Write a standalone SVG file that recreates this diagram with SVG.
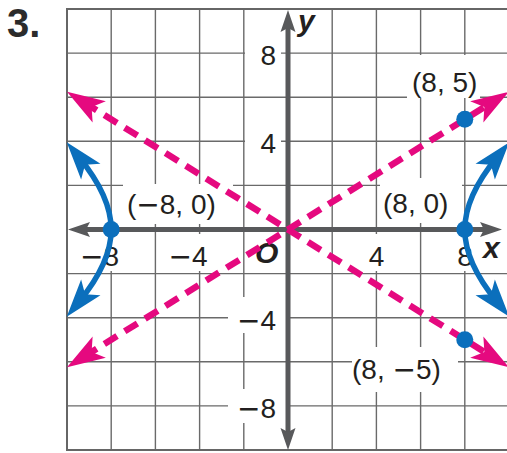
<svg xmlns="http://www.w3.org/2000/svg" width="507" height="453" viewBox="0 0 507 453">
<defs>
<style>
.grid{stroke:#6a6a6a;stroke-width:1.4;fill:none}
.border{stroke:#666666;stroke-width:2;fill:none}
.bg{fill:#ffffff}
.lbl{font-family:'Liberation Sans',Arial,sans-serif;font-size:28px;fill:#231f20}
.mn{font-family:'DejaVu Sans',sans-serif}
.axl{font-family:'Liberation Sans',Arial,sans-serif;font-size:30px;font-weight:bold;font-style:italic;fill:#231f20}
.title{font-family:'Liberation Sans',Arial,sans-serif;font-size:40px;font-weight:bold;fill:#2b2b2b}
.axis{stroke:#58595b;stroke-width:5;fill:none;marker-start:url(#ah-axis);marker-end:url(#ah-axis)}
.asym{stroke:#e5097f;stroke-width:6.5;fill:none;stroke-dasharray:15 9;marker-start:url(#ah-pink);marker-end:url(#ah-pink)}
.hyp{stroke:#0b6fbc;stroke-width:5.5;fill:none;marker-start:url(#ah-blue);marker-end:url(#ah-blue)}
.pt{fill:#0b6fbc}
</style>
<marker id="ah-axis" markerUnits="userSpaceOnUse" orient="auto-start-reverse" markerWidth="60" markerHeight="40" viewBox="-30 -20 60 40" refX="0" refY="0" overflow="visible">
<path d="M12,0 L-10,-7.5 L-6,0 L-10,7.5 Z" fill="#58595b" stroke="none"/>
</marker>
<marker id="ah-pink" markerUnits="userSpaceOnUse" orient="auto-start-reverse" markerWidth="60" markerHeight="40" viewBox="-30 -20 60 40" refX="0" refY="0" overflow="visible">
<path d="M20,0 L-18,-12.5 L-9,0 L-18,12.5 Z" fill="#e5097f" stroke="none"/>
</marker>
<marker id="ah-blue" markerUnits="userSpaceOnUse" orient="auto-start-reverse" markerWidth="60" markerHeight="40" viewBox="-30 -20 60 40" refX="0" refY="0" overflow="visible">
<path d="M20,0 L-18,-12.5 L-9,0 L-18,12.5 Z" fill="#0b6fbc" stroke="none"/>
</marker>
</defs>

<text class="title" x="7" y="37">3.</text>

<g id="grid">
<path class="grid" d="M111.2,9V450M155.4,9V450M199.6,9V450M243.8,9V450M332.2,9V450M376.4,9V450M420.6,9V450M464.8,9V450"/>
<path class="grid" d="M67,53.1H507M67,97.2H507M67,141.3H507M67,185.4H507M67,273.6H507M67,317.7H507M67,361.8H507M67,405.9H507"/>
<path class="border" d="M507,9H67V450H507"/>
</g>

<g id="label-boxes">
<rect class="bg" x="245" y="40" width="36" height="26"/>
<rect class="bg" x="245" y="128" width="36" height="27"/>
<rect class="bg" x="228" y="297" width="58" height="36"/>
<rect class="bg" x="228" y="389" width="58" height="34"/>
<rect class="bg" x="70" y="234" width="50" height="37"/>
<rect class="bg" x="157" y="234" width="53" height="37"/>
<rect class="bg" x="367" y="234" width="21" height="37"/>
<rect class="bg" x="455" y="234" width="20" height="37"/>
<rect class="bg" x="407" y="55" width="73" height="43"/>
<rect class="bg" x="380" y="178" width="82" height="45"/>
<rect class="bg" x="123" y="184" width="110" height="40"/>
<rect class="bg" x="352" y="347" width="106" height="45"/>
</g>

<g id="tick-labels">
<text class="lbl" x="276" y="64.5" text-anchor="end">8</text>
<text class="lbl" x="276" y="152.5" text-anchor="end">4</text>
<text class="lbl" x="276" y="329.5" text-anchor="end"><tspan class="mn">−</tspan>4</text>
<text class="lbl" x="276" y="418" text-anchor="end"><tspan class="mn">−</tspan>8</text>
<text class="lbl" x="119" y="266" text-anchor="end"><tspan class="mn">−</tspan>8</text>
<text class="lbl" x="207.6" y="266" text-anchor="end"><tspan class="mn">−</tspan>4</text>
<text class="lbl" x="384.4" y="266" text-anchor="end">4</text>
<text class="lbl" x="472.8" y="266" text-anchor="end">8</text>
<text class="axl" x="255" y="263">O</text>
</g>

<g id="axes">
<path class="axis" d="M80,229.5H490"/>
<path class="axis" d="M288,22V438"/>
<text class="axl" x="483" y="258">x</text>
<text class="axl" x="298" y="31">y</text>
</g>

<g id="asymptotes">
<path class="asym" d="M83.97,102.28L492.03,356.72"/>
<path class="asym" d="M83.97,356.72L492.03,102.28"/>
</g>

<g id="hyperbola">
<path class="hyp" d="M496.6,301.3C479.5,280.4 464.8,256.5 464.8,229.5C464.8,202.5 479.5,178.6 496.6,157.7"/>
<path class="hyp" d="M79.4,301.3C96.5,280.4 111.2,256.5 111.2,229.5C111.2,202.5 96.5,178.6 79.4,157.7"/>
</g>

<g id="points">
<g id="pt-neg8-0"><circle class="pt" cx="111.2" cy="229.5" r="8.5"/><text class="lbl" x="127" y="214">(<tspan class="mn">−</tspan>8, 0)</text></g>
<g id="pt-8-0"><circle class="pt" cx="464.8" cy="229.5" r="8.5"/><text class="lbl" x="383" y="213">(8, 0)</text></g>
<g id="pt-8-5"><circle class="pt" cx="464.8" cy="119.3" r="8.5"/><text class="lbl" x="412" y="92">(8, 5)</text></g>
<g id="pt-8-neg5"><circle class="pt" cx="464.8" cy="339.8" r="8.5"/><text class="lbl" x="352" y="379">(8, <tspan class="mn">−</tspan>5)</text></g>
</g>
</svg>
